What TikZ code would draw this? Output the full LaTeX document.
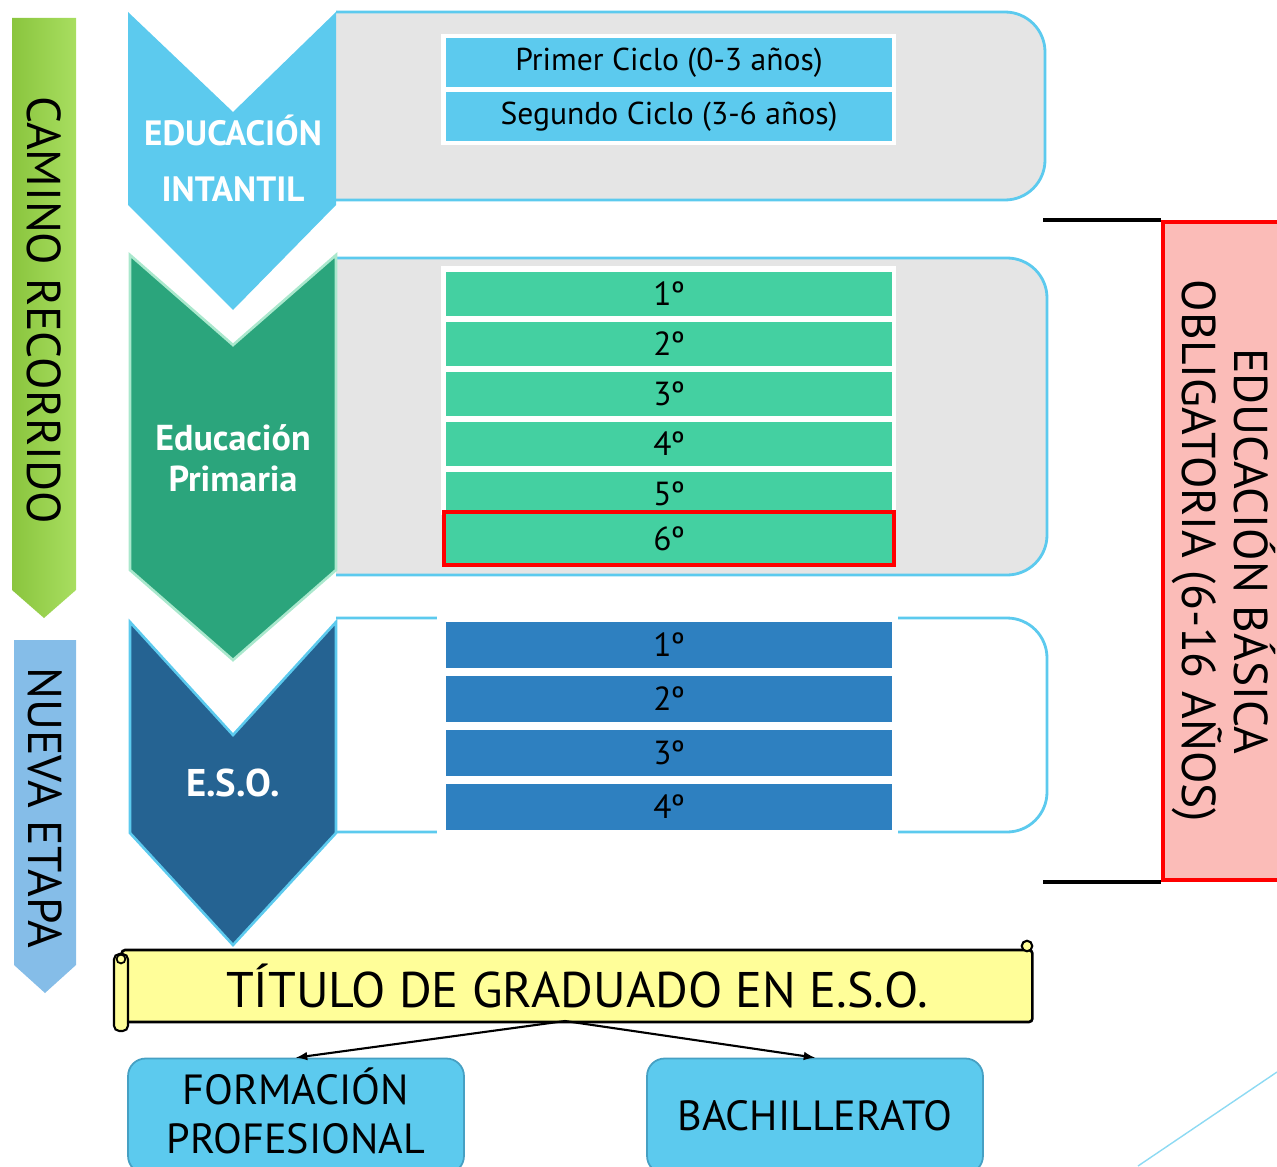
\documentclass[tikz,border=0pt]{standalone}
\usepackage{fontspec}
\setmainfont{PT Sans}
\usetikzlibrary{positioning, shapes, arrows, calc}
\definecolor{InfBlue}{RGB}{92,202,238}
\definecolor{BoxGray}{RGB}{229,229,229}
\definecolor{PriGreen}{RGB}{43,165,124}
\definecolor{PriLight}{RGB}{68,208,161}
\definecolor{PriEdge}{RGB}{170,232,205}
\definecolor{EsoNavy}{RGB}{37,99,146}
\definecolor{EsoRow}{RGB}{46,128,192}
\definecolor{BarGreenL}{RGB}{138,197,62}
\definecolor{BarGreenR}{RGB}{168,222,96}
\definecolor{BarBlue}{RGB}{133,189,232}
\definecolor{ObliPink}{RGB}{251,188,184}
\definecolor{TitYellow}{RGB}{255,254,153}
\definecolor{OutEdge}{RGB}{70,160,195}

\begin{document}
\begin{tikzpicture}[x=0.02cm, y=-0.02cm]
          \tikzset{ inf/.style ={fill=InfBlue, inner sep=0pt, minimum width=8.92cm, minimum height=0.98cm, font=\fontsize{18}{20}\selectfont} }
          \tikzset{ pri/.style ={fill=PriLight, inner sep=0pt, minimum width=8.92cm, minimum height=0.88cm, font=\fontsize{19}{20}\selectfont} }
          \tikzset{ eso/.style ={fill=EsoRow, inner sep=0pt, minimum width=8.92cm, minimum height=0.92cm, font=\fontsize{19}{20}\selectfont} }
          \tikzset{ stage/.style ={text=white, align=center, inner sep=0pt} }
          \tikzset{ side/.style ={rotate=-90, inner sep=0pt, font=\fontsize{27}{30}\selectfont} }
          \tikzset{ frame/.style ={draw=InfBlue, line width=1.6pt, rounded corners=0.8cm} }
          \tikzset{ exit/.style ={draw=OutEdge, fill=InfBlue, line width=1pt, rounded corners=0.35cm, align=center, minimum width=6.72cm, minimum height=2.3cm, font=\fontsize{24}{28}\selectfont} }

          \useasboundingbox (0,0) rectangle (1277,1166);
          \clip (0,0) rectangle (1277,1166);

          % side bars
          \shade[left color=BarGreenL, right color=BarGreenR] (12,18) -- (76,18) -- (76,590) -- (44,618) -- (12,590) -- cycle;
          \node[side] (camino) at (44,310) {CAMINO RECORRIDO};
          \fill[BarBlue] (14,640) -- (76,640) -- (76,965) -- (45,993) -- (14,965) -- cycle;
          \node[side] (nueva) at (45,808) {NUEVA ETAPA};

          % stage boxes
          \draw[frame, fill=BoxGray] (336,12) -- (1045,12) -- (1045,200) -- (336,200);
          \draw[frame, fill=BoxGray] (336,258) -- (1047,258) -- (1047,575) -- (336,575);
          \draw[frame, fill=white] (336,618) -- (1047,618) -- (1047,832) -- (336,832);

          % chevrons
          \fill[InfBlue] (128,12) -- (233,112) -- (336,12) -- (336,205) -- (233,310) -- (128,205) -- cycle;
          \filldraw[fill=PriGreen, draw=PriEdge, line width=1.5pt] (130,255) -- (233,345) -- (336,255) -- (336,570) -- (233,660) -- (130,570) -- cycle;
          \filldraw[fill=EsoNavy, draw=InfBlue, line width=1.5pt] (130,622) -- (233,735) -- (336,622) -- (336,833) -- (233,945) -- (130,833) -- cycle;

          \node[stage, font=\bfseries\fontsize{20}{32}\selectfont] (infT) at (233,158) {EDUCACIÓN\\INTANTIL};
          \node[stage, font=\bfseries\fontsize{20.5}{23}\selectfont] (priT) at (233,458) {Educación\\Primaria};
          \node[stage, font=\bfseries\fontsize{22}{24}\selectfont] (esoT) at (233,783) {E.S.O.};

          % white frames behind the rows
          \fill[white] (441,34) rectangle (896,145);
          \fill[white] (441,266) rectangle (896,515);
          \fill[white] (437,612) rectangle (898,837);

          \node[inf] (i1) at (669,62.5) {Primer Ciclo (0-3 años)};
          \node[inf] (i2) at (669,116.5) {Segundo Ciclo (3-6 años)};

          \node[pri] (p1) at (669,294) {1º};
          \node[pri] (p2) at (669,344) {2º};
          \node[pri] (p3) at (669,394) {3º};
          \node[pri] (p4) at (669,444) {4º};
          \node[pri] (p5) at (669,494) {5º};
          \node[pri, draw=red, line width=2pt, minimum width=9.0cm, minimum height=1.06cm] (p6) at (669,538.5) {6º};

          \node[eso] (e1) at (669,645) {1º};
          \node[eso] (e2) at (669,699) {2º};
          \node[eso] (e3) at (669,753) {3º};
          \node[eso] (e4) at (669,807) {4º};

          % compulsory span
          \node[side, draw=red, fill=ObliPink, line width=2.5pt, align=center, minimum width=13.16cm, minimum height=2.44cm] (obli) at (1224,551) {EDUCACIÓN BÁSICA\\OBLIGATORIA (6-16 AÑOS)};
          \draw[line width=2.5pt] (obli.south west) -- ++(-118,0);
          \draw[line width=2.5pt] (obli.south east) -- ++(-118,0);

          % title scroll
          \node[draw, fill=TitYellow, line width=1.5pt, rounded corners=2pt, minimum width=18.22cm, minimum height=1.44cm, font=\fontsize{28.5}{30}\selectfont] (tit) at (577,986) {TÍTULO DE GRADUADO EN E.S.O.};
          \filldraw[fill=TitYellow, line width=1.2pt, rounded corners=3pt] (114,954) rectangle (128,1031);
          \draw[line width=1pt] (121,959) circle (2.5pt);
          \filldraw[fill=TitYellow, line width=1.2pt] (1027,946) circle (3pt);

          \node[exit] (fp) at (296,1116) {};
          \node[align=center, font=\fontsize{24}{28}\selectfont] (fpT) at (296,1111) {FORMACIÓN\\PROFESIONAL};
          \node[exit] (ba) at (815,1116) {BACHILLERATO};

          \coordinate (fork) at (565,1021);
          \draw[->,>=latex, line width=1.2pt] (fork) -- (fp.north);
          \draw[->,>=latex, line width=1.2pt] (fork) -- (ba.north);

          \draw[InfBlue!70, line width=0.8pt] (1277,1072) -- (1138,1166);
\end{tikzpicture}
\end{document}
